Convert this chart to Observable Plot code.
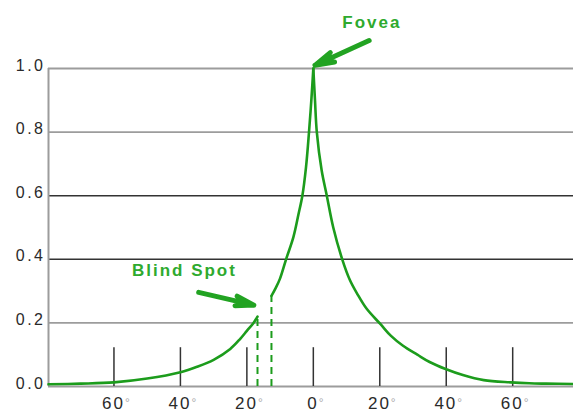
<!DOCTYPE html>
<html>
<head>
<meta charset="utf-8">
<script src="https://cdn.jsdelivr.net/npm/d3@7"></script>
<script src="https://cdn.jsdelivr.net/npm/@observablehq/plot@0.6"></script>
<style>
  html, body { margin: 0; padding: 0; background: #fff; overflow: hidden; }
</style>
</head>
<body>
<div id="chart"></div>
<script>
// Angle from fovea (degrees; negative = nasal side with blind spot) and relative cone density
const peripheryLeftDeg = [-79.7, -70, -60, -50, -40, -35, -30, -25, -22, -20, -18, -16.8];
const peripheryLeftVal = [0.007, 0.009, 0.013, 0.025, 0.045, 0.062, 0.084, 0.118, 0.15, 0.175, 0.2, 0.22];

const innerLeftDeg = [-12.6, -11.3, -10, -8.2, -6, -4.5, -3.3, -2.2, -1.3, -0.6, 0];
const innerLeftVal = [0.285, 0.31, 0.34, 0.4, 0.47, 0.54, 0.6, 0.69, 0.8, 0.9, 1.0];

const rightDeg = [0, 0.5, 1.05, 2.5, 4.06, 6, 8.7, 11, 13.3, 16, 20.3, 23.3, 27, 31.3, 35, 39.8, 45, 51.3, 59.4, 65, 70, 78.3];
const rightVal = [1.0, 0.9, 0.8, 0.68, 0.6, 0.5, 0.4, 0.335, 0.29, 0.245, 0.195, 0.16, 0.128, 0.1, 0.077, 0.055, 0.036, 0.02, 0.013, 0.01, 0.009, 0.008];

const blindSpotDeg = [-16.8, -12.6];
const blindSpotVal = [0.22, 0.285];

const xTicks = [-60, -40, -20, 0, 20, 40, 60];
const yTicks = [0, 0.2, 0.4, 0.6, 0.8, 1.0];
const xDomain = [-79.7, 78.3];

const labels = [
  {text: "Fovea", x: 17.6, y: 1.143},
  {text: "Blind Spot", x: -38.8, y: 0.365}
];
const arrows = [
  {x1: 16.8, y1: 1.088, x2: 0.5, y2: 1.01},
  {x1: -34.5, y1: 0.296, x2: -17.9, y2: 0.256}
];

const curve = [
  ...peripheryLeftDeg.map((d, i) => ({deg: d, val: peripheryLeftVal[i], seg: "a"})),
  ...innerLeftDeg.map((d, i) => ({deg: d, val: innerLeftVal[i], seg: "b"})),
  ...rightDeg.map((d, i) => ({deg: d, val: rightVal[i], seg: "c"}))
];
const blind = blindSpotDeg.map((d, i) => ({deg: d, val: blindSpotVal[i]}));

const green = "#1c9c1c";
const textGreen = "#2eaa2e";

const chart = Plot.plot({
  width: 573,
  height: 412,
  marginLeft: 48,
  marginRight: 0,
  marginTop: 68,
  marginBottom: 26,
  x: {domain: xDomain},
  y: {domain: [0, 1]},
  style: {fontFamily: "'Liberation Sans', Arial, sans-serif", background: "#fff", overflow: "visible"},
  marks: [
    Plot.ruleY(yTicks.filter(d => d !== 0.4 && d !== 0.6), {stroke: "#9c9c9c", strokeWidth: 1.8}),
    Plot.ruleY(yTicks.filter(d => d === 0.4 || d === 0.6), {stroke: "#333", strokeWidth: 1.6}),
    Plot.ruleX([xDomain[0]], {y1: 0, y2: 1, stroke: "#9c9c9c", strokeWidth: 2}),
    Plot.ruleX(xTicks, {y1: 0, y2: 0.122, stroke: "#333", strokeWidth: 1.5}),
    Plot.axisY({ticks: yTicks, tickSize: 0, tickPadding: 3, tickFormat: d3.format(".1f"), fill: "#2a2a2a", dy: -3, label: null}),
    Plot.axisX({ticks: xTicks, tickSize: 0, tickPadding: 10, tickFormat: d => Math.abs(d) + "°", fill: "#2a2a2a", dx: 3, label: null}),
    Plot.ruleX(blind, {x: "deg", y1: 0, y2: "val", stroke: green, strokeWidth: 2, strokeDasharray: "7,5"}),
    Plot.line(curve, {x: "deg", y: "val", z: "seg", stroke: green, strokeWidth: 2.6, curve: "catmull-rom"}),
    Plot.arrow(arrows, {x1: "x1", y1: "y1", x2: "x2", y2: "y2", stroke: "#22a322", strokeWidth: 5, headLength: 6, headAngle: 30}),
    Plot.text(labels, {x: "x", y: "y", text: "text", fill: textGreen, fontSize: 17, fontWeight: "bold"})
  ]
});

const svg = d3.select(chart);
svg.selectAll("text").filter(function() {
  return this.textContent === "Fovea" || this.textContent === "Blind Spot";
}).attr("letter-spacing", "2");
svg.selectAll("[aria-label='y-axis tick label']").attr("font-size", 16);
svg.selectAll("[aria-label='y-axis tick label'] text").attr("font-size", 16).attr("letter-spacing", "2.5");
svg.selectAll("[aria-label='x-axis tick label']").attr("font-size", 17);
svg.selectAll("[aria-label='x-axis tick label'] text").each(function() {
  const t = this.textContent;
  const num = t.replace("°", "");
  const el = d3.select(this).attr("font-size", 17).attr("letter-spacing", "2");
  el.text(num);
  el.append("tspan").attr("fill", "#aaa").attr("font-size", 12).attr("dy", "-0.1em").text("°");
});

document.getElementById("chart").appendChild(chart);
</script>
</body>
</html>
